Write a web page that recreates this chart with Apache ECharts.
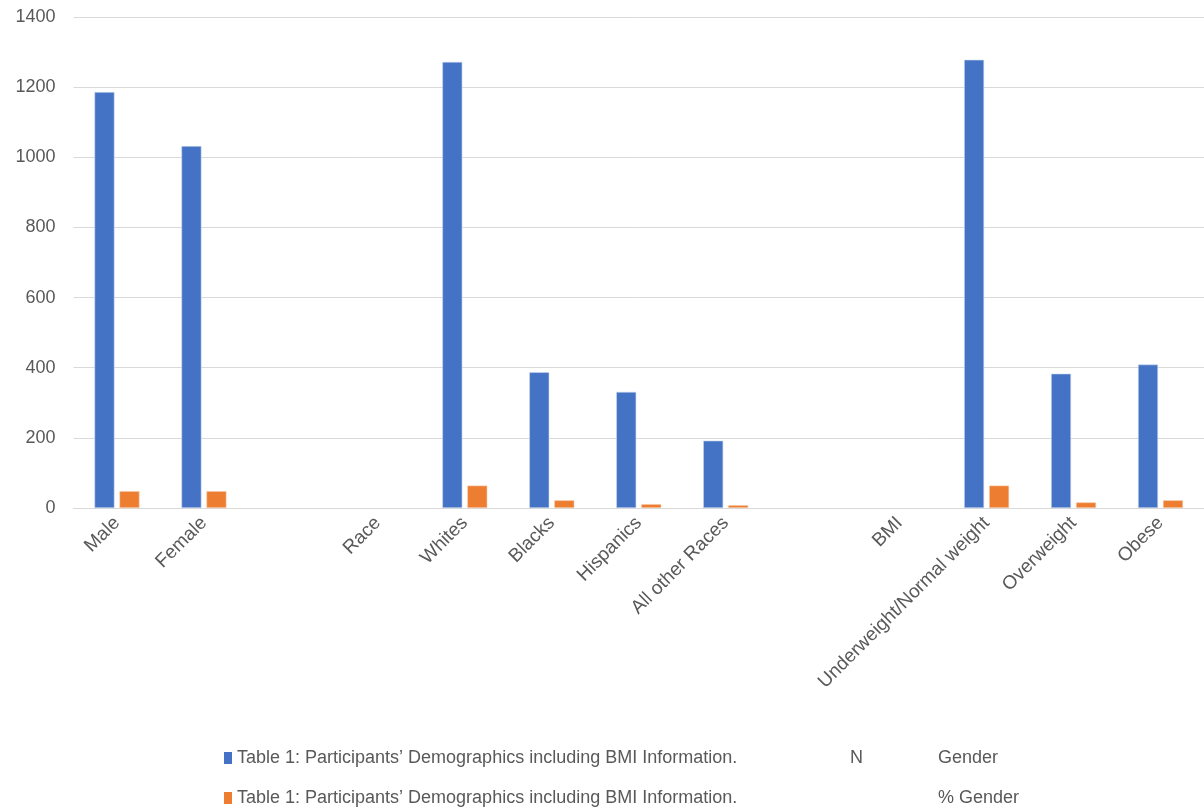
<!DOCTYPE html>
<html><head><meta charset="utf-8">
<script src="https://cdn.jsdelivr.net/npm/echarts@6/dist/echarts.min.js"></script>
<style>html,body{margin:0;padding:0;background:#fff}#c{width:1204px;height:810px}</style>
</head><body><div id="c"></div>
<script>
const categories = ['Male','Female','','Race','Whites','Blacks','Hispanics','All other Races','','BMI','Underweight/Normal weight','Overweight','Obese'];
const nValues = [1186,1032,null,null,1272,387,331,192,null,null,1278,383,409];
const pctValues = [48,48,null,null,64,22,11,8,null,null,64,16,22];
const yTicks = {min:0,max:1400,interval:200};
const seriesNames = ['Table 1: Participants’ Demographics including BMI Information.|N|Gender','Table 1: Participants’ Demographics including BMI Information.||% Gender'];

const chart = echarts.init(document.getElementById('c'));
const font = "'Liberation Sans', Arial, sans-serif";
const txt = '#595959';
function legendFor(name, top){
  return {
    orient:'horizontal',left:219,top:top,
    icon:'rect',itemWidth:8,itemHeight:12,itemGap:6,
    data:[name],
    itemStyle:{borderWidth:0},
    formatter:function(n){const p=n.split('|');return '{a|'+p[0]+'}{b|'+p[1]+'}{c|'+p[2]+'}';},
    textStyle:{color:txt,fontSize:18,fontFamily:font,
      rich:{a:{width:613,fontSize:18,color:txt,fontFamily:font},b:{width:88,fontSize:18,color:txt,fontFamily:font},c:{fontSize:18,color:txt,fontFamily:font}}}
  };
}
chart.setOption({
  animation:false,
  textStyle:{fontFamily:font},
  grid:{left:73.5,top:17,width:1141,height:491,containLabel:false},
  legend:[legendFor(seriesNames[0],744),legendFor(seriesNames[1],784)],
  xAxis:{type:'category',data:categories,
    axisLine:{lineStyle:{color:'#d9d9d9',width:1}},axisTick:{show:false},
    axisLabel:{rotate:45,interval:0,color:txt,fontSize:19,margin:12,fontFamily:font}},
  yAxis:{type:'value',min:yTicks.min,max:yTicks.max,interval:yTicks.interval,
    axisLine:{show:false},axisTick:{show:false},
    splitLine:{lineStyle:{color:'#d9d9d9',width:1}},
    axisLabel:{color:txt,fontSize:18,margin:18,fontFamily:font,formatter:function(v){return String(v);}}},
  series:[
    {name:seriesNames[0],type:'bar',data:nValues,barWidth:20,barGap:'25%',
      itemStyle:{color:'#4472C4',borderColor:'#c9d6ee',borderWidth:0.6}},
    {name:seriesNames[1],type:'bar',data:pctValues,barWidth:20,
      itemStyle:{color:'#ED7D31',borderColor:'#f7cdb0',borderWidth:0.6}}
  ]
});
</script></body></html>
